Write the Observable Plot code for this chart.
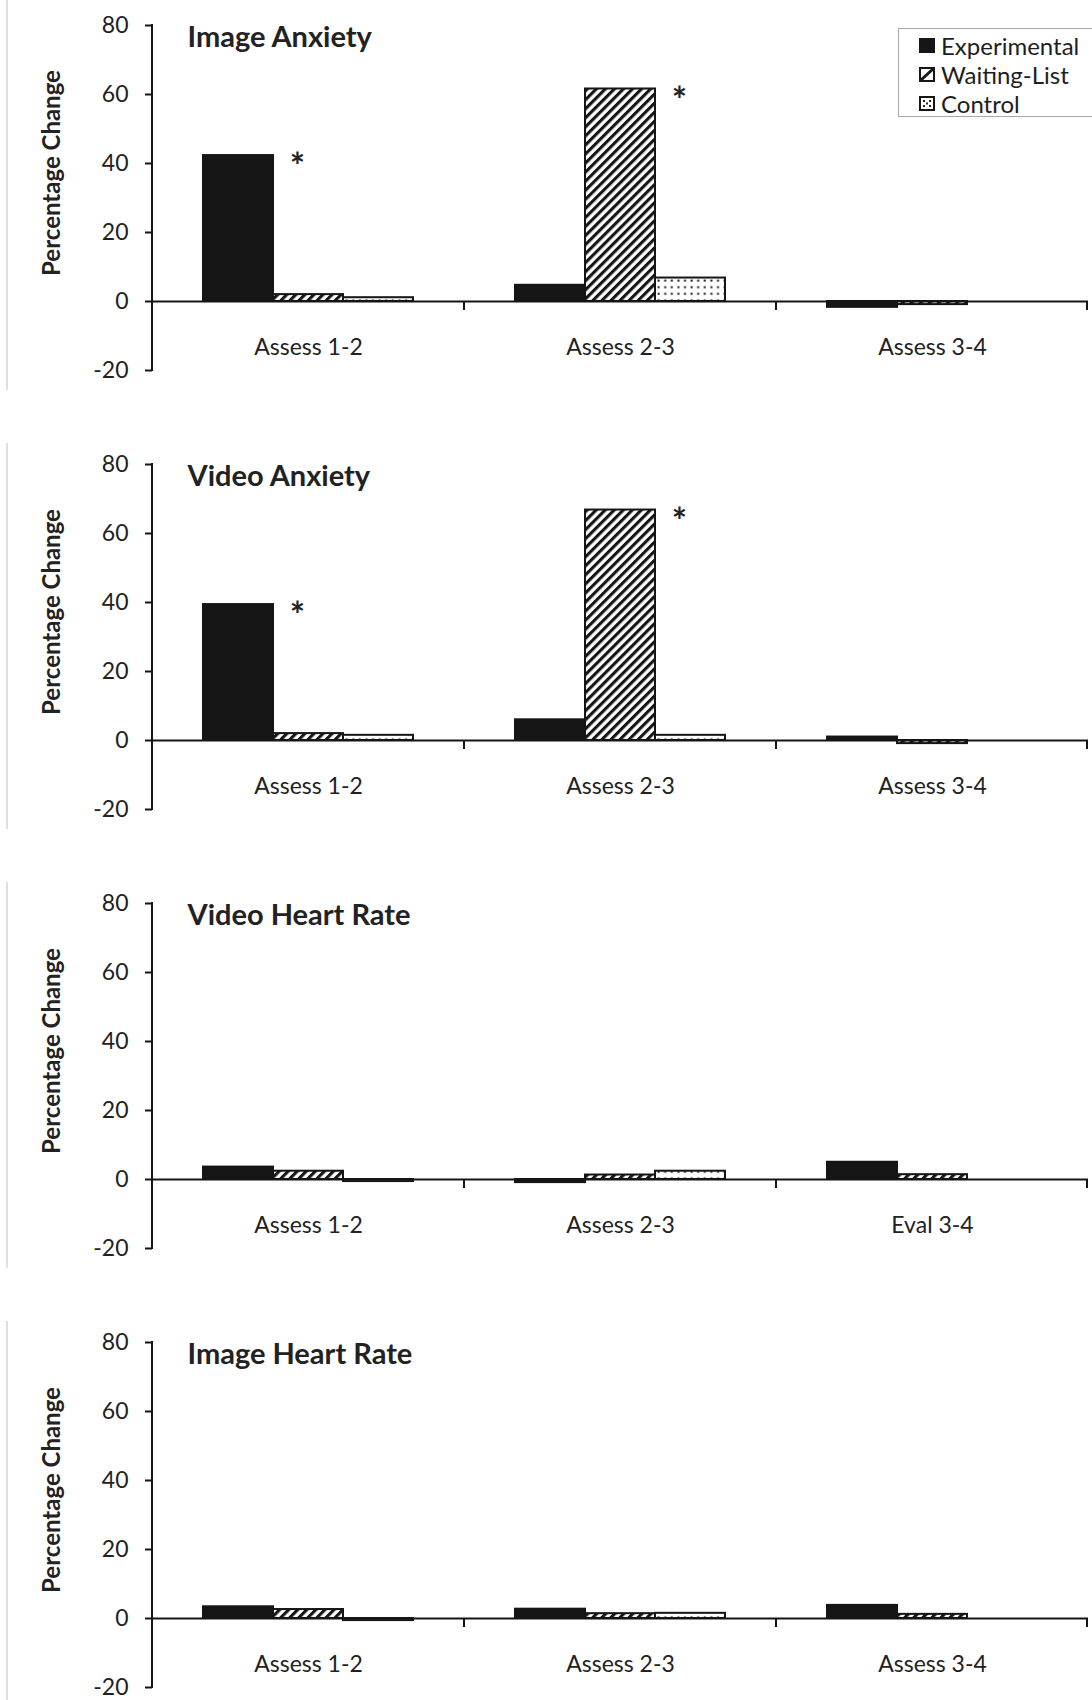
<!DOCTYPE html>
<html>
<head>
<meta charset="utf-8">
<script src="https://cdn.jsdelivr.net/npm/d3@7"></script>
<script src="https://cdn.jsdelivr.net/npm/@observablehq/plot@0.6"></script>
<style>
  body { margin: 0; background: #fff; font-family: Lato, "Open Sans", sans-serif; }
  #wrap { position: relative; width: 1092px; }
  .panel { position: relative; width: 1092px; height: 439px; overflow: visible; }
  .panel svg.plot { display: block; }
  #legend {
    position: absolute; left: 898px; top: 28px; width: 200px; height: 89px;
    border: 1px solid #a8a8a8; background: #fff; box-sizing: border-box;
    padding: 2px 0 0 20px; font-family: Lato, sans-serif; font-size: 24px; color: #1e1e1e;
  }
  #legend .row { height: 29px; line-height: 29px; display: flex; align-items: center; white-space: nowrap; }
  #legend svg { margin-right: 6px; flex: none; }
</style>
</head>
<body>
<svg width="0" height="0" style="position:absolute">
  <defs>
    <pattern id="hatch" patternUnits="userSpaceOnUse" width="6.4" height="6.4" patternTransform="rotate(45)">
      <rect width="6.4" height="6.4" fill="#fff"></rect>
      <rect width="3.1" height="6.4" fill="#151515"></rect>
    </pattern>
    <pattern id="dots" patternUnits="userSpaceOnUse" width="6.6" height="6.6">
      <rect width="6.6" height="6.6" fill="#fff"></rect>
      <rect x="2.4" y="2.4" width="2" height="2" fill="#1a1a1a"></rect>
    </pattern>
  </defs>
</svg>
<div id="wrap"></div>
<script>
// ---------------- data ----------------
const groups = ["Experimental", "Waiting-List", "Control"];
const panelTitles = ["Image Anxiety", "Video Anxiety", "Video Heart Rate", "Image Heart Rate"];
const periodLabels = [
  ["Assess 1-2", "Assess 2-3", "Assess 3-4"],
  ["Assess 1-2", "Assess 2-3", "Assess 3-4"],
  ["Assess 1-2", "Assess 2-3", "Eval 3-4"],
  ["Assess 1-2", "Assess 2-3", "Assess 3-4"]
];
// values per panel, per period
const experimental = [[42.3, 4.7, -1.7], [39.4, 6.0, 1.0], [3.6, -0.9, 5.0], [3.4, 2.7, 3.8]];
const waitingList  = [[2.0, 61.6, -0.9], [2.0, 66.8, -0.9], [2.4, 1.3, 1.4], [2.6, 1.4, 1.2]];
const control      = [[1.1, 6.8, null], [1.5, 1.5, null], [-0.6, 2.4, null], [-0.6, 1.5, null]];
const yTicks = [-20, 0, 20, 40, 60, 80];
const significance = [
  {panel: 0, period: 0, group: "Experimental"},
  {panel: 0, period: 1, group: "Waiting-List"},
  {panel: 1, period: 0, group: "Experimental"},
  {panel: 1, period: 1, group: "Waiting-List"}
];
const groupFills = ["#161616", "url(#hatch)", "url(#dots)"];

const seriesValues = [experimental, waitingList, control];
const wrap = document.getElementById("wrap");

function makePanel(k) {
  const periods = periodLabels[k];
  const rows = [];
  periods.forEach((p, i) => {
    groups.forEach((g, j) => {
      const v = seriesValues[j][k][i];
      if (v != null) rows.push({period: p, group: g, value: v});
    });
  });
  const stars = significance.filter(s => s.panel === k).map(s => ({
    period: periods[s.period],
    group: s.group,
    value: seriesValues[groups.indexOf(s.group)][k][s.period]
  }));

  const plot = Plot.plot({
    width: 1092,
    height: 439,
    marginTop: 25,
    marginBottom: 69,
    marginLeft: 152,
    marginRight: 4,
    style: {fontFamily: "Lato, sans-serif", background: "transparent", overflow: "visible"},
    fx: {domain: periods, padding: 0, axis: null},
    x: {domain: groups, paddingInner: 0, paddingOuter: 0.713, axis: null},
    y: {domain: [-20, 80], axis: null},
    color: {type: "ordinal", domain: groups, range: groupFills},
    marks: [
      Plot.barY(rows, {fx: "period", x: "group", y: "value", fill: "group", stroke: "#151515", strokeWidth: 2}),
      Plot.ruleY([0], {stroke: "#151515", strokeWidth: 2}),
      Plot.axisY({
        ticks: yTicks, tickSize: 7, tickPadding: 17, tickFormat: d => String(d),
        fontSize: 23, stroke: "#151515", strokeWidth: 2, color: "#222", label: null
      }),
      Plot.text(periods, {fx: d => d, text: d => d, y: 0, dy: 46, fontSize: 23, fill: "#222"}),
      Plot.text(stars, {fx: "period", x: "group", y: "value", text: () => "*", dx: 59, dy: 12, fontSize: 36, fontWeight: "bold", fill: "#222"}),
      Plot.text([panelTitles[k]], {fx: () => periods[0], frameAnchor: "top-left", textAnchor: "start", lineAnchor: "bottom", dx: 35, dy: 21, fontSize: 29, fontWeight: "bold", fill: "#222"}),
      Plot.text(["Percentage Change"], {fx: () => periods[0], frameAnchor: "left", textAnchor: "middle", lineAnchor: "middle", rotate: -90, dx: -100, dy: -25, fontSize: 24, fontWeight: "bold", fill: "#222"})
    ]
  });
  plot.classList.add("plot");

  // axis line & category boundary ticks derived from the plot's scales
  const fx = plot.scale("fx");
  const y = plot.scale("y");
  const svg = d3.select(plot);
  const y0 = y.apply(0), yTop = y.apply(80), yBot = y.apply(-20);
  const left = fx.range[0];
  const step = (fx.range[1] - fx.range[0]) / periods.length;
  svg.append("line")
    .attr("x1", left).attr("x2", left).attr("y1", yTop - 1).attr("y2", yBot + 1)
    .attr("stroke", "#151515").attr("stroke-width", 2);
  for (let i = 1; i <= periods.length; i++) {
    const bx = left + step * i - (i === periods.length ? 1 : 0);
    svg.append("line")
      .attr("x1", bx).attr("x2", bx).attr("y1", y0).attr("y2", y0 + 9)
      .attr("stroke", "#151515").attr("stroke-width", 2);
  }
  // faint left border of the original panel
  svg.append("line")
    .attr("x1", 7).attr("x2", 7).attr("y1", k === 0 ? 0 : 4).attr("y2", 390)
    .attr("stroke", "#d4d4d4").attr("stroke-width", 1.5);

  const div = document.createElement("div");
  div.className = "panel";
  div.appendChild(plot);
  wrap.appendChild(div);
  return div;
}

const first = makePanel(0);
for (let k = 1; k < panelTitles.length; k++) makePanel(k);

// legend (first panel only)
const legend = document.createElement("div");
legend.id = "legend";
const swatchSvg = [
  '<svg width="16" height="15"><rect x="1" y="1" width="14" height="13" fill="#161616" stroke="#161616" stroke-width="2"/></svg>',
  '<svg width="16" height="15"><rect x="1" y="1" width="14" height="13" fill="#fff" stroke="#161616" stroke-width="2"/><line x1="2" y1="13" x2="14" y2="2" stroke="#161616" stroke-width="3"/></svg>',
  '<svg width="16" height="15"><rect x="1" y="1" width="14" height="13" fill="#fff" stroke="#161616" stroke-width="2"/><rect x="4" y="4" width="2" height="2" fill="#222"/><rect x="10" y="4" width="2" height="2" fill="#222"/><rect x="4" y="9" width="2" height="2" fill="#222"/><rect x="10" y="9" width="2" height="2" fill="#222"/><rect x="7" y="6.5" width="2" height="2" fill="#222"/></svg>'
];
groups.forEach((g, i) => {
  const row = document.createElement("div");
  row.className = "row";
  row.innerHTML = swatchSvg[i];
  const span = document.createElement("span");
  span.textContent = g;
  row.appendChild(span);
  legend.appendChild(row);
});
first.appendChild(legend);
</script>
</body>
</html>
